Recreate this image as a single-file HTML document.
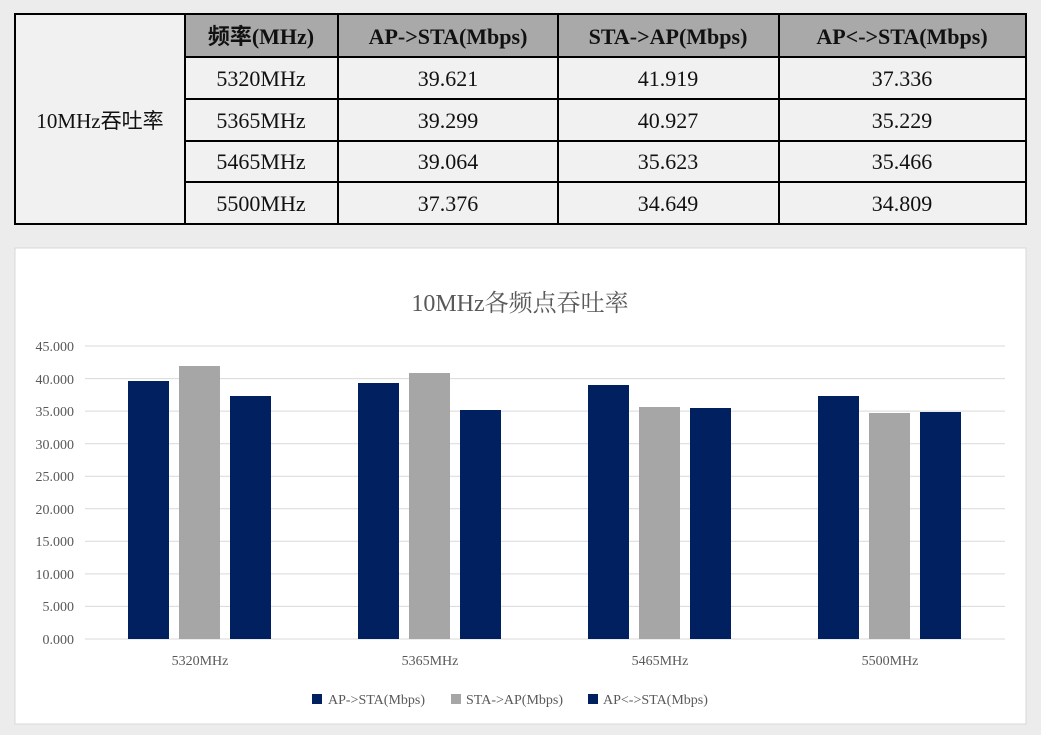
<!DOCTYPE html>
<html><head><meta charset="utf-8"><style>
html,body{margin:0;padding:0;width:1041px;height:735px;overflow:hidden;background:#ececec;}
</style></head><body>
<svg width="1041" height="735" xmlns="http://www.w3.org/2000/svg" style="position:absolute;left:0;top:0">
<rect x="0" y="0" width="1041" height="735" fill="#ececec"/>
<rect x="15" y="14" width="1011" height="210" fill="#f1f1f1"/>
<rect x="185" y="14" width="841" height="43" fill="#a9a9a9"/>
<g stroke="#000" stroke-width="2" fill="none">
<rect x="15" y="14" width="1011" height="210"/>
<line x1="185" y1="14" x2="185" y2="224"/>
<line x1="338" y1="14" x2="338" y2="224"/>
<line x1="558" y1="14" x2="558" y2="224"/>
<line x1="779" y1="14" x2="779" y2="224"/>
<line x1="185" y1="57" x2="1026" y2="57"/>
<line x1="185" y1="99" x2="1026" y2="99"/>
<line x1="185" y1="141" x2="1026" y2="141"/>
<line x1="185" y1="182" x2="1026" y2="182"/>
</g>
<g font-family="Liberation Serif, Noto Serif CJK SC, serif" font-size="22" text-anchor="middle" fill="#111">
<g font-weight="bold">
<text x="261" y="44" font-family="Liberation Serif, Noto Sans CJK SC, serif">频率(MHz)</text>
<text x="448" y="44">AP-&gt;STA(Mbps)</text>
<text x="668" y="44">STA-&gt;AP(Mbps)</text>
<text x="902" y="44">AP&lt;-&gt;STA(Mbps)</text>
</g>
<text x="100" y="128" font-family="Liberation Serif, Noto Sans CJK SC, serif" font-size="21">10MHz吞吐率</text>
<text x="261" y="86">5320MHz</text><text x="448" y="86">39.621</text><text x="668" y="86">41.919</text><text x="902" y="86">37.336</text>
<text x="261" y="128">5365MHz</text><text x="448" y="128">39.299</text><text x="668" y="128">40.927</text><text x="902" y="128">35.229</text>
<text x="261" y="169">5465MHz</text><text x="448" y="169">39.064</text><text x="668" y="169">35.623</text><text x="902" y="169">35.466</text>
<text x="261" y="211">5500MHz</text><text x="448" y="211">37.376</text><text x="668" y="211">34.649</text><text x="902" y="211">34.809</text>
</g>

<rect x="15" y="248" width="1011" height="476" fill="#fff" stroke="#d9d9d9" stroke-width="1"/>
<text x="520" y="311" text-anchor="middle" font-family="Liberation Serif, Noto Serif CJK SC, serif" font-size="24" fill="#595959">10MHz各频点吞吐率</text>
<g stroke="#d9d9d9" stroke-width="1">
<line x1="85" x2="1005" y1="346" y2="346"/><line x1="85" x2="1005" y1="378.6" y2="378.6"/>
<line x1="85" x2="1005" y1="411.1" y2="411.1"/><line x1="85" x2="1005" y1="443.7" y2="443.7"/>
<line x1="85" x2="1005" y1="476.2" y2="476.2"/><line x1="85" x2="1005" y1="508.8" y2="508.8"/>
<line x1="85" x2="1005" y1="541.3" y2="541.3"/><line x1="85" x2="1005" y1="573.9" y2="573.9"/>
<line x1="85" x2="1005" y1="606.4" y2="606.4"/><line x1="85" x2="1005" y1="639" y2="639"/>
</g>
<g font-family="Liberation Serif, serif" font-size="14" fill="#595959" text-anchor="end">
<text x="74" y="351">45.000</text><text x="74" y="384">40.000</text><text x="74" y="416">35.000</text>
<text x="74" y="449">30.000</text><text x="74" y="481">25.000</text><text x="74" y="514">20.000</text>
<text x="74" y="546">15.000</text><text x="74" y="579">10.000</text><text x="74" y="611">5.000</text><text x="74" y="644">0.000</text>
</g>
<g>
<rect x="128" y="381" width="41" height="258" fill="#002060"/>
<rect x="179" y="366" width="41" height="273" fill="#a6a6a6"/>
<rect x="230" y="396" width="41" height="243" fill="#002060"/>
<rect x="358" y="383" width="41" height="256" fill="#002060"/>
<rect x="409" y="373" width="41" height="266" fill="#a6a6a6"/>
<rect x="460" y="410" width="41" height="229" fill="#002060"/>
<rect x="588" y="385" width="41" height="254" fill="#002060"/>
<rect x="639" y="407" width="41" height="232" fill="#a6a6a6"/>
<rect x="690" y="408" width="41" height="231" fill="#002060"/>
<rect x="818" y="396" width="41" height="243" fill="#002060"/>
<rect x="869" y="413" width="41" height="226" fill="#a6a6a6"/>
<rect x="920" y="412" width="41" height="227" fill="#002060"/>
</g>
<g font-family="Liberation Serif, serif" font-size="14" fill="#595959" text-anchor="middle">
<text x="200" y="665">5320MHz</text><text x="430" y="665">5365MHz</text>
<text x="660" y="665">5465MHz</text><text x="890" y="665">5500MHz</text>
</g>
<g font-family="Liberation Serif, serif" font-size="14" fill="#595959">
<rect x="312" y="694" width="10" height="10" fill="#002060"/><text x="328" y="704">AP-&gt;STA(Mbps)</text>
<rect x="451" y="694" width="10" height="10" fill="#a6a6a6"/><text x="466" y="704">STA-&gt;AP(Mbps)</text>
<rect x="588" y="694" width="10" height="10" fill="#002060"/><text x="603" y="704">AP&lt;-&gt;STA(Mbps)</text>
</g>
</svg>
</body></html>
